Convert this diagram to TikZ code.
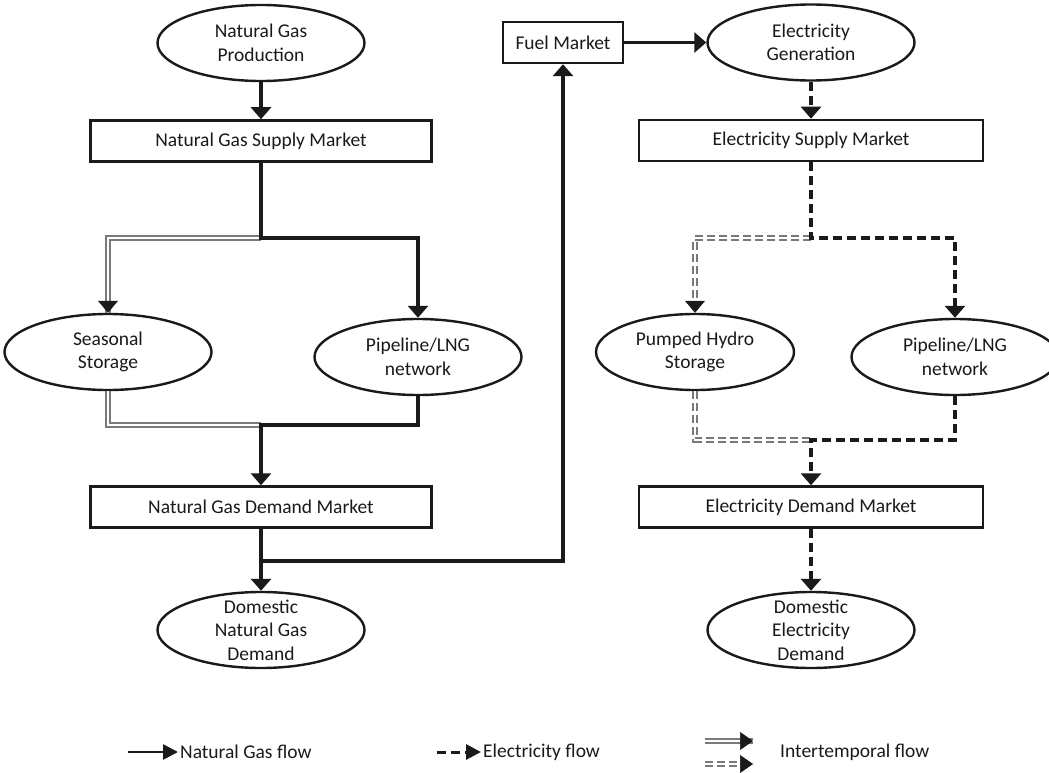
\documentclass[tikz,border=0pt]{standalone}
\usepackage{fontspec}
\setmainfont{Carlito}
\usepackage{tikz}
\usetikzlibrary{arrows.meta,positioning,calc,shapes.geometric}
\definecolor{ink}{HTML}{1A1A1A}
\definecolor{intgray}{HTML}{7A7A7A}
\tikzset{
  mkt/.style={draw=ink,line width=2.4pt,minimum width=341pt,minimum height=41pt,inner sep=0pt,
    fill=white,text=ink,font=\fontsize{19.5}{23.5}\selectfont},
  proc/.style={ellipse,draw=ink,line width=2.4pt,minimum width=207pt,minimum height=76pt,inner sep=0pt,
    align=center,fill=white,text=ink,font=\fontsize{19.5}{23.5}\selectfont},
  gasln/.style={line width=3.5pt,draw=ink},
  gasarr/.style={gasln,-{Triangle[length=12pt,width=20pt]}},
  elecln/.style={gasln,dash pattern=on 9pt off 5pt},
  elecarr/.style={elecln,-{Triangle[length=12pt,width=20pt]}},
  interln/.style={draw=intgray,line width=1.9pt,double=white,double distance=1.8pt},
  interdash/.style={interln,dash pattern=on 8pt off 4pt},
  tiponly/.style={draw=ink,line width=0.6pt,-{Triangle[length=12pt,width=20pt]}},
  legtxt/.style={anchor=west,inner sep=2pt,text=ink,font=\fontsize{19.5}{23.5}\selectfont}
}

\begin{document}
\begin{tikzpicture}[x=1pt,y=-1pt]
  \useasboundingbox (0,0) rectangle (1049,773);

  % natural gas side
  \node[proc] (gprod) at (261,43) {Natural Gas\\Production};
  \node[mkt,below=37pt of gprod] (gsup) {Natural Gas Supply Market};
  \node[proc] (gstor) at (108,352) {Seasonal\\Storage};
  \node[proc] (gpipe) at (418,357) {Pipeline/LNG\\network};
  \node[mkt] (gdem) at (261,507) {Natural Gas Demand Market};
  \node[proc,inner ysep=-10pt] (gdom) at (261,630) {Domestic\\Natural Gas\\Demand};
  \node[mkt,minimum width=120pt] (fuel) at (563,42.5) {Fuel Market};
  \coordinate (gsplit) at (261,238);
  \coordinate (gjoin) at (261,425);
  \coordinate (gfork) at (261,561);

  \draw[gasarr] (gprod) -- (gsup);
  \draw[interln] (gsplit) -| (gstor.north);
  \draw[tiponly] ($(gstor.north)+(0,-12)$) -- (gstor.north);
  \draw[gasarr] (gsup) -- (gsplit) -| (gpipe);
  \draw[interln] (gstor) |- (gjoin);
  \draw[gasarr] (gpipe) |- (gjoin) -- (gdem);
  \draw[gasarr] (gdem) -- (gdom);
  \draw[gasarr] (gfork) -| (fuel);

  % electricity side
  \node[proc] (egen) at (811,42.5) {Electricity\\Generation};
  \node[mkt,minimum width=344pt,below=37pt of egen] (esup) {Electricity Supply Market};
  \node[proc,minimum width=198pt] (estor) at (695,352) {Pumped Hydro\\Storage};
  \node[proc] (epipe) at (955,357) {Pipeline/LNG\\network};
  \node[mkt,minimum width=344pt] (edem) at (811,507) {Electricity Demand Market};
  \node[proc,inner ysep=-10pt] (edom) at (811,630) {Domestic\\Electricity\\Demand};
  \coordinate (esplit) at (811,238);
  \coordinate (ejoin) at (811,440);

  \draw[gasarr] (fuel) -- (egen);
  \draw[elecarr] (egen) -- (esup);
  \draw[interdash] (esplit) -| (estor.north);
  \draw[tiponly] ($(estor.north)+(0,-12)$) -- (estor.north);
  \draw[elecarr] (esup) -- (esplit) -| (epipe);
  \draw[interdash] (estor) |- (ejoin);
  \draw[elecarr] (epipe) |- (ejoin) -- (edem);
  \draw[elecarr] (edem) -- (edom);

  % legend
  \coordinate (lgas) at (128,752);
  \node[legtxt] (lgastxt) at (178,752) {Natural Gas flow};
  \draw[gasln,line width=2.7pt,-{Triangle[length=15pt,width=15pt]}] (lgas) -- (lgastxt.west);
  \coordinate (lelec) at (437,752);
  \node[legtxt] (lelectxt) at (481,752) {Electricity flow};
  \draw[elecln,line width=3pt,-{Triangle[length=15pt,width=15pt]}] (lelec) -- (lelectxt.west);
  \coordinate (lint) at (705,741);
  \coordinate (linte) at (753,741);
  \coordinate (lintd) at (705,764);
  \coordinate (lintde) at (753,764);
  \node[legtxt] (linttxt) at (778,752) {Intertemporal flow};
  \draw[interln] (lint) -- (linte);
  \draw[tiponly,-{Triangle[length=13pt,width=18pt]}] ($(linte)+(-13,0)$) -- (linte);
  \draw[interdash] (lintd) -- (lintde);
  \draw[tiponly,-{Triangle[length=13pt,width=18pt]}] ($(lintde)+(-13,0)$) -- (lintde);
\end{tikzpicture}
\end{document}
